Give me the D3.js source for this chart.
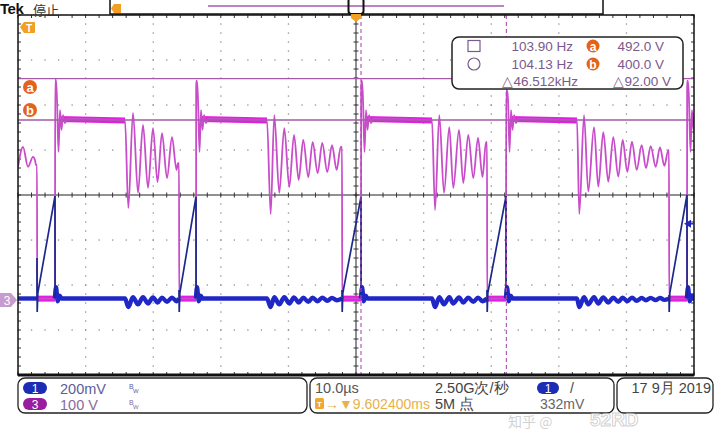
<!DOCTYPE html>
<html><head><meta charset="utf-8">
<script src="https://cdn.jsdelivr.net/npm/d3@7"></script>
<style>html,body{margin:0;padding:0;background:#fff;}svg{display:block;font-family:"Liberation Sans",Arial,sans-serif;}</style>
</head><body><svg id="chart" width="720" height="432"></svg>
<script>
// ---------------- DATA ----------------
const timePerDiv = 10;            // µs / div
const ch1VoltsPerDiv = 0.2;       // V / div (channel 1)
const ch3VoltsPerDiv = 100;       // V / div (channel 3)
const ch1Position = -2.3;         // div
const ch3Position = -2.333;       // div
const cursorVolts = [492.0, 400.0];
const cursorTimes = [50.74, 72.24];
const triggerLevel = 0.332;       // V

// switching events (µs)
const fallTimes = [2.81, 23.82, 47.93, 69.38, 96.30];
const riseTimes = [5.47, 26.33, 50.74, 72.19, 98.96];
const onLevel = 3;                // V (ch3 during on-time)
const spikePeaks = [489, 487, 487, 467, 487];
const spikeTail = [[0.3,444],[0.52,329],[0.74,422],[0.96,378],[1.19,411],[1.48,393],[1.8,403]];
const plateauLevels = [402, 399];

// ch3 resonant ringing [µs, V]
const ring0 = [[0,296],[0.74,340],[1.48,296],[2.22,318],[2.51,311],[2.66,300]];
const ring1 = [[15.83,399],[16.32,204],[17.01,416],[17.75,238],[18.49,389],[19.23,249],[19.97,382],[20.64,262],[21.30,371],[22.04,271],[22.78,362],[23.45,289],[23.67,304]];
const ring2 = [[36.83,399],[37.38,191],[37.91,411],[38.65,238],[39.39,382],[40.13,251],[40.83,367],[41.52,267],[42.20,356],[42.94,273],[43.59,351],[44.33,282],[45.01,349],[45.75,284],[46.45,344],[47.14,289],[47.74,340]];
const ring3 = [[61.24,399],[61.69,200],[62.32,411],[63.02,238],[63.80,384],[64.39,249],[65.24,378],[65.87,260],[66.61,367],[67.35,271],[68.05,360],[68.71,273],[69.23,351]];
const ring4 = [[82.69,399],[83.03,191],[83.73,411],[84.36,241],[85.21,384],[85.84,252],[86.58,373],[87.32,263],[88.06,362],[88.80,274],[89.45,356],[90.13,285],[90.83,352],[91.52,289],[92.26,344],[92.90,293],[93.59,342],[94.33,296],[94.97,339],[95.61,298],[96.20,333]];

// ch1 current-sense
const rampStart = 0.024;
const rampPeaks = [0.455, 0.452, 0.452, 0.455, 0.46];
const blueSpikeHigh = [0.18, 0.038, 0.038, 0.038, 0.016];
const blueSpikeLow = -0.06;
const turnOffBlip = [[0.15,0.05],[0.4,-0.012],[0.7,0.012],[1.0,0]];
const blueRing1 = [[15.83,0],[16.32,-0.038],[17.01,0.006],[17.75,-0.026],[18.49,0.006],[19.23,-0.022],[19.97,0.005],[20.64,-0.018],[21.30,0.004],[22.04,-0.015],[22.78,0.004],[23.45,-0.012]];
const blueRing2 = [[36.83,0],[37.38,-0.038],[37.91,0.006],[38.65,-0.026],[39.39,0.006],[40.13,-0.022],[40.83,0.005],[41.52,-0.018],[42.20,0.004],[42.94,-0.015],[43.59,0.004],[44.33,-0.012],[45.01,0.004],[45.75,-0.01],[46.45,0.003],[47.14,-0.008]];
const blueRing3 = [[61.24,0],[61.69,-0.038],[62.32,0.006],[63.02,-0.026],[63.80,0.006],[64.39,-0.022],[65.24,0.005],[65.87,-0.018],[66.61,0.004],[67.35,-0.015],[68.05,0.004],[68.71,-0.012]];
const blueRing4 = [[82.69,0],[83.03,-0.038],[83.73,0.006],[84.36,-0.026],[85.21,0.006],[85.84,-0.022],[86.58,0.005],[87.32,-0.018],[88.06,0.004],[88.80,-0.015],[89.45,0.004],[90.13,-0.012],[90.83,0.004],[91.52,-0.01],[92.26,0.003],[92.90,-0.008],[93.59,0.003],[94.33,-0.007],[94.97,0.003],[95.61,-0.006]];

// readouts
const readFreq = ["103.90 Hz", "104.13 Hz", "\u25B346.512kHz"];
const readVolt = ["492.0 V", "400.0 V", "\u25B392.00 V"];
const chLabels = [["1","200mV"],["3","100 V"]];
const horizLabels = ["10.0\u00B5s", "\u2192\u25BC9.602400ms"];
const acqLabels = ["2.50G\u6B21/\u79D2", "5M \u70B9"];
const trigLabel = "332mV";
const dateLabel = "17 9\u6708 2019";

// ---------------- DRAW ----------------
const svg = d3.select('#chart');
const P = {l:18, t:15, r:694, b:375};
const x = d3.scaleLinear().domain([0, 10*timePerDiv]).range([P.l, P.r]);
const yDiv = d3.scaleLinear().domain([-4, 4]).range([P.b, P.t]);
const y1 = d3.scaleLinear().domain([(-4-ch1Position)*ch1VoltsPerDiv, (4-ch1Position)*ch1VoltsPerDiv]).range([P.b, P.t]);
const y3 = d3.scaleLinear().domain([(-4-ch3Position)*ch3VoltsPerDiv, (4-ch3Position)*ch3VoltsPerDiv]).range([P.b, P.t]);

svg.append('rect').attr('width',720).attr('height',432).attr('fill','#fff');
svg.append('clipPath').attr('id','clip').append('rect')
  .attr('x',P.l).attr('y',P.t).attr('width',P.r-P.l).attr('height',P.b-P.t);

// grid
const grid = svg.append('g');
const dots = [];
for (let i=1;i<10;i++){ if(i===5) continue; for (let j=0;j<=40;j++) dots.push([x(i*timePerDiv), yDiv(-4+j*0.2)]); }
for (let k=-3;k<=3;k++){ if(k===0) continue; for (let j=0;j<=50;j++) dots.push([x(j*timePerDiv/5), yDiv(k)]); }
grid.selectAll('rect.dot').data(dots).join('rect').attr('class','dot')
  .attr('x',d=>d[0]-0.6).attr('y',d=>d[1]-0.6).attr('width',1.3).attr('height',1.3).attr('fill','#8f8f8f');

grid.append('line').attr('x1',P.l).attr('x2',P.r).attr('y1',yDiv(0)).attr('y2',yDiv(0)).attr('stroke','#222').attr('stroke-width',1);
grid.append('line').attr('x1',x(50)).attr('x2',x(50)).attr('y1',P.t).attr('y2',P.b).attr('stroke','#222').attr('stroke-width',1);
const hT = d3.range(0,51).map(j=>x(j*timePerDiv/5));
const vT = d3.range(0,41).map(j=>yDiv(-4+j*0.2));
grid.selectAll('line.hc').data(hT).join('line').attr('class','hc').attr('x1',d=>d).attr('x2',d=>d).attr('y1',yDiv(0)-2.5).attr('y2',yDiv(0)+2.5).attr('stroke','#333');
grid.selectAll('line.vc').data(vT).join('line').attr('class','vc').attr('y1',d=>d).attr('y2',d=>d).attr('x1',x(50)-2.5).attr('x2',x(50)+2.5).attr('stroke','#333');
grid.selectAll('line.bt').data(hT).join('line').attr('class','bt').attr('x1',d=>d).attr('x2',d=>d).attr('y1',P.t).attr('y2',P.t+3).attr('stroke','#333');
grid.selectAll('line.bb').data(hT).join('line').attr('class','bb').attr('x1',d=>d).attr('x2',d=>d).attr('y1',P.b-3).attr('y2',P.b).attr('stroke','#333');
grid.selectAll('line.bl').data(vT).join('line').attr('class','bl').attr('y1',d=>d).attr('y2',d=>d).attr('x1',P.l).attr('x2',P.l+3).attr('stroke','#333');
grid.selectAll('line.br').data(vT).join('line').attr('class','br').attr('y1',d=>d).attr('y2',d=>d).attr('x1',P.r-3).attr('x2',P.r).attr('stroke','#333');

// horizontal cursors
const cur = svg.append('g').attr('clip-path','url(#clip)');
cur.selectAll('line.hcur').data(cursorVolts).join('line').attr('class','hcur')
  .attr('x1',P.l).attr('x2',P.r).attr('y1',d=>y3(d)).attr('y2',d=>y3(d)).attr('stroke','#a45aa8').attr('stroke-width',1.3);

// traces
const traces = svg.append('g').attr('clip-path','url(#clip)');
const line3 = d3.line().x(d=>x(d[0])).y(d=>y3(d[1])).curve(d3.curveMonotoneX);
const line3lin = d3.line().x(d=>x(d[0])).y(d=>y3(d[1]));
const line1 = d3.line().x(d=>x(d[0])).y(d=>y1(d[1]));
const line1s = d3.line().x(d=>x(d[0])).y(d=>y1(d[1])).curve(d3.curveMonotoneX);

const rings = [ring0, ring1, ring2, ring3, ring4];
const mag = ring0.slice();
fallTimes.forEach((f,i)=>{
  const r = riseTimes[i];
  const last = mag[mag.length-1][1];
  mag.push([f,last],[f+0.03,onLevel],[r,onLevel],[r+0.03,spikePeaks[i]],[r+0.15,spikePeaks[i]]);
  spikeTail.forEach(p=>mag.push([r+p[0],p[1]]));
  const next = rings[i+1];
  if (next) next.forEach(p=>mag.push(p)); else mag.push([r+4, plateauLevels[0]]);
});
const magOnBands = fallTimes.map((f,i)=>[[f+0.1,onLevel],[riseTimes[i],onLevel]]);
const plateauBands = riseTimes.map((r,i)=>[[r+0.6,plateauLevels[0]],[rings[i+1] ? rings[i+1][0][0] : r+4, plateauLevels[1]]]);

traces.selectAll('path.mband').data(magOnBands.concat(plateauBands)).join('path').attr('class','mband')
  .attr('d',line3lin).attr('fill','none').attr('stroke','#e41de4').attr('stroke-width',6);
traces.append('path').datum(mag).attr('d',line3).attr('fill','none').attr('stroke','#c94ccb').attr('stroke-width',1.8).attr('stroke-linejoin','round');

// blue
const blueRings = [null, blueRing1, blueRing2, blueRing3, blueRing4];
const blueBase = [[[0,0],[fallTimes[0],0]]];
const blueRamps = [];
fallTimes.forEach((f,i)=>{
  const r = riseTimes[i];
  blueRamps.push([[f,0],[f,blueSpikeHigh[i]],[f+0.03,blueSpikeLow],[f+0.12,rampStart],[r,rampPeaks[i]],[r+0.02,0]]);
  const seg = [[r,0]];
  turnOffBlip.forEach(p=>seg.push([r+p[0],p[1]]));
  if (blueRings[i+1]) blueRings[i+1].forEach(p=>seg.push(p));
  seg.push([i+1<fallTimes.length ? fallTimes[i+1] : r+4, 0]);
  blueBase.push(seg);
});
traces.selectAll('path.bbase').data(blueBase).join('path').attr('class','bbase')
  .attr('d',line1s).attr('fill','none').attr('stroke','#1f27c6').attr('stroke-width',4.4).attr('stroke-linejoin','round');
traces.selectAll('path.bramp').data(blueRamps).join('path').attr('class','bramp')
  .attr('d',line1).attr('fill','none').attr('stroke','#1b2a8a').attr('stroke-width',1.7);

// vertical time cursors
cur.raise();
svg.selectAll('line.vcur').data(cursorTimes).join('line').attr('class','vcur')
  .attr('x1',d=>x(d)).attr('x2',d=>x(d)).attr('y1',P.t).attr('y2',P.b)
  .attr('stroke','#b04cb4').attr('stroke-width',1.1).attr('stroke-dasharray','4,3');

// border
svg.append('rect').attr('x',P.l).attr('y',P.t).attr('width',P.r-P.l).attr('height',P.b-P.t)
  .attr('fill','none').attr('stroke','#111').attr('stroke-width',1.5);
svg.append('line').attr('x1',P.l).attr('x2',P.r).attr('y1',P.b).attr('y2',P.b).attr('stroke','#111').attr('stroke-width',3);

// ---- readout box
const rb = svg.append('g');
rb.append('rect').attr('x',452).attr('y',37).attr('width',231).attr('height',52).attr('rx',7)
  .attr('fill','#fff').attr('stroke','#222').attr('stroke-width',1.5);
const rowY = [51, 69, 86];
const txtC = '#7a5a8c';
rb.append('rect').attr('x',468).attr('y',40.5).attr('width',12).attr('height',11).attr('fill','none').attr('stroke',txtC).attr('stroke-width',1.2);
rb.append('circle').attr('cx',474).attr('cy',64).attr('r',6).attr('fill','none').attr('stroke',txtC).attr('stroke-width',1.2);
rb.selectAll('text.f').data(readFreq).join('text').attr('class','f')
  .attr('x',(d,i)=>i<2?573:578).attr('y',(d,i)=>rowY[i]).attr('text-anchor','end')
  .attr('font-size',13.5).attr('fill',txtC).text(d=>d);
rb.selectAll('text.v').data(readVolt).join('text').attr('class','v')
  .attr('x',(d,i)=>i<2?664:671).attr('y',(d,i)=>rowY[i]).attr('text-anchor','end')
  .attr('font-size',13.5).attr('fill',txtC).text(d=>d);
['a','b'].forEach((l,i)=>{
  rb.append('circle').attr('cx',593).attr('cy',46+i*18).attr('r',6.5).attr('fill','#e4631c');
  rb.append('text').attr('x',593).attr('y',50.5+i*18).attr('text-anchor','middle').attr('font-size',12).attr('font-weight','bold').attr('fill','#fff').text(l);
});

// ---- left markers
const mk = svg.append('g');
['a','b'].forEach((l,i)=>{
  mk.append('circle').attr('cx',30).attr('cy',[87,110][i]).attr('r',7).attr('fill','#e4631c');
  mk.append('text').attr('x',30).attr('y',[91.5,114.5][i]).attr('text-anchor','middle').attr('font-size',13).attr('font-weight','bold').attr('fill','#fff').text(l);
});
mk.append('path').attr('d','M20,27 L24,22 L34,22 Q35,22 35,23 L35,32 Q35,33 34,33 L24,33 Z').attr('fill','#f2a023');
mk.append('text').attr('x',29).attr('y',31.5).attr('text-anchor','middle').attr('font-size',10).attr('font-weight','bold').attr('fill','#fff').text('T');
mk.append('path').attr('d','M0,293 L11,293 L17,300 L11,307 L0,307 Z').attr('fill','#c79bcf');
mk.append('text').attr('x',7).attr('y',304.5).attr('text-anchor','middle').attr('font-size',12).attr('fill','#fff').text('3');
// trigger level arrow (right)
mk.append('path').attr('d',`M684,${y1(triggerLevel)} L691,${y1(triggerLevel)-4} L691,${y1(triggerLevel)+4} Z`).attr('fill','#1f27c6');
mk.append('line').attr('x1',688).attr('x2',P.r).attr('y1',y1(triggerLevel)).attr('y2',y1(triggerLevel)).attr('stroke','#1f27c6').attr('stroke-width',1.5);

// ---- top bar
const topBar = svg.append('g');
topBar.append('text').attr('x',0).attr('y',14).attr('font-size',15).attr('font-weight','bold').attr('fill','#111').attr('letter-spacing',-0.5).text('Tek');
topBar.append('text').attr('x',33).attr('y',15).attr('font-size',13).attr('font-family','"Noto Sans CJK SC"').attr('fill','#333').text('\u505C\u6B62');
topBar.append('rect').attr('x',110).attr('y',-1).attr('width',493).attr('height',15).attr('fill','#fff').attr('stroke','#111').attr('stroke-width',1.5);
topBar.append('line').attr('x1',208).attr('x2',504).attr('y1',6).attr('y2',6).attr('stroke','#a35aad').attr('stroke-width',1.4);
topBar.append('path').attr('d','M111,8.5 L114,4 L121,4 L121,13 L114,13 Z').attr('fill','#f2a023');
topBar.append('rect').attr('x',348.5).attr('y',-2).attr('width',15).attr('height',16).attr('rx',3).attr('fill','none').attr('stroke','#111').attr('stroke-width',2);
topBar.append('path').attr('d',`M${x(50)-5},14 L${x(50)+5},14 L${x(50)+5},18 L${x(50)},22 L${x(50)-5},18 Z`).attr('fill','#f2a023');

// ---- bottom bar
const bot = svg.append('g');
bot.append('rect').attr('x',18).attr('y',378).attr('width',289).attr('height',35).attr('rx',7).attr('fill','#fff').attr('stroke','#222').attr('stroke-width',1.3);
bot.append('rect').attr('x',310).attr('y',378).attr('width',304).attr('height',35).attr('rx',7).attr('fill','#fff').attr('stroke','#222').attr('stroke-width',1.3);
bot.append('rect').attr('x',617).attr('y',378).attr('width',96).attr('height',35).attr('rx',7).attr('fill','#fff').attr('stroke','#222').attr('stroke-width',1.3);
const pillC = ['#1b2cb5','#9a1c9f'];
const labC = ['#5e5e98','#8a6a9a'];
chLabels.forEach((c,i)=>{
  const cy = 388 + i*16;
  bot.append('rect').attr('x',23).attr('y',cy-6).attr('width',24).attr('height',12).attr('rx',6).attr('fill',pillC[i]);
  bot.append('text').attr('x',35).attr('y',cy+4.5).attr('text-anchor','middle').attr('font-size',12).attr('fill','#fff').text(c[0]);
  bot.append('text').attr('x',60).attr('y',cy+5.5).attr('font-size',14.5).attr('fill',labC[i]).text(c[1]);
  bot.append('text').attr('x',129).attr('y',cy+1).attr('font-size',7).attr('fill',labC[i]).text('B');
  bot.append('text').attr('x',133).attr('y',cy+5).attr('font-size',6).attr('fill',labC[i]).text('W');
});
bot.append('text').attr('x',315).attr('y',393).attr('font-size',14.5).attr('fill','#555').text(horizLabels[0]);
bot.append('rect').attr('x',315).attr('y',398).attr('width',9).attr('height',11).attr('rx',1.5).attr('fill','#f0a830');
bot.append('text').attr('x',319.5).attr('y',407).attr('text-anchor','middle').attr('font-size',8).attr('font-weight','bold').attr('fill','#fff').text('T');
bot.append('text').attr('x',325).attr('y',409).attr('font-size',14).attr('fill','#e8b24a').text(horizLabels[1]);
bot.append('text').attr('x',435).attr('y',393).attr('font-size',14.5).attr('fill','#444').text(acqLabels[0]);
bot.append('text').attr('x',435).attr('y',409).attr('font-size',14.5).attr('fill','#444').text(acqLabels[1]);
bot.append('rect').attr('x',537).attr('y',382).attr('width',22).attr('height',12).attr('rx',6).attr('fill','#1b2cb5');
bot.append('text').attr('x',548).attr('y',392.5).attr('text-anchor','middle').attr('font-size',12).attr('fill','#fff').text('1');
bot.append('text').attr('x',570).attr('y',393).attr('font-size',14).attr('fill','#444').text('/');
bot.append('text').attr('x',540).attr('y',409).attr('font-size',14).attr('fill','#666').text(trigLabel);
bot.append('text').attr('x',711).attr('y',393).attr('text-anchor','end').attr('font-size',14.5).attr('fill','#444').text(dateLabel);
// watermark (faint), kept clear of the readout texts
bot.append('text').attr('x',508).attr('y',427).attr('font-size',14).attr('font-family','"Noto Sans CJK SC"').attr('fill','rgba(150,150,150,0.45)').text('\u77E5\u4E4E @');
bot.append('text').attr('x',590).attr('y',426).attr('font-size',19).attr('font-weight','bold').attr('fill','rgba(255,255,255,0.5)').attr('stroke','rgba(150,150,150,0.45)').attr('stroke-width',1).text('52RD');
</script></body></html>
